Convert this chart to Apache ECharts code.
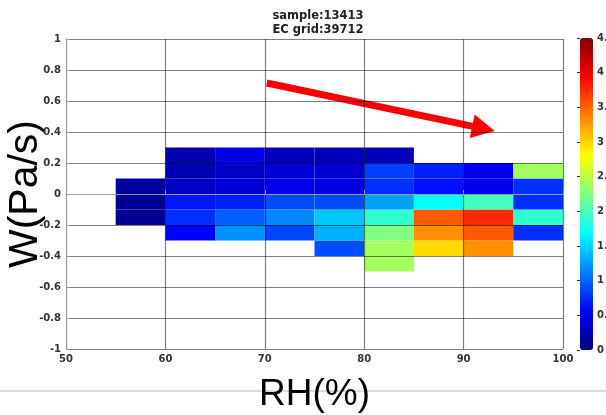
<!DOCTYPE html>
<html>
<head>
<meta charset="utf-8">
<script src="https://cdn.jsdelivr.net/npm/echarts@6/dist/echarts.min.js"></script>
<style>
  html, body { margin: 0; padding: 0; background: #fff; }
  #chart { width: 606px; height: 415px; }
</style>
</head>
<body>
<div id="chart"></div>
<script>
// bin edges (lower-left corner of each cell)
const rhStart = [55, 60, 65, 70, 75, 80, 85, 90, 95];
const wStart = [-0.5, -0.4, -0.3, -0.2, -0.1, 0, 0.1, 0.2];
const rhStep = 5;
const wStep = 0.1;

// cell values per RH column, listed bottom (-0.5) to top (0.2); null = empty
const rh55 = [null, null, null, 0.1, 0.1, 0.15, null, null];
const rh60 = [null, null, 0.56, 0.77, 0.66, 0.3, 0.22, 0.2];
const rh65 = [null, null, 1.2, 0.98, 0.7, 0.38, 0.32, 0.5];
const rh70 = [null, null, 0.88, 1.16, 0.9, 0.45, 0.38, 0.28];
const rh75 = [null, 0.9, 1.34, 1.44, 0.9, 0.43, 0.36, 0.28];
const rh80 = [2.4, 2.4, 2.25, 1.9, 1.27, 0.77, 0.84, 0.28];
const rh85 = [null, 2.97, 3.3, 3.54, 1.69, 0.63, 0.7, null];
const rh90 = [null, 3.3, 3.54, 3.76, 1.97, 0.5, 0.56, null];
const rh95 = [null, null, 0.77, 1.9, 0.77, 0.77, 2.4, null];
const columns = [rh55, rh60, rh65, rh70, rh75, rh80, rh85, rh90, rh95];

const xTicks = [50, 100, 10];     // min, max, interval
const yTicks = [-1, 1, 0.2];
const cbarRange = [0, 4.5, 0.5];

// MATLAB jet
const jet = ['#000080', '#0000ff', '#0080ff', '#00ffff', '#80ff80',
             '#ffff00', '#ff8000', '#ff0000', '#800000'];

const cells = [];
columns.forEach((col, i) => {
  col.forEach((v, j) => {
    if (v !== null) cells.push([rhStart[i], wStart[j], v]);
  });
});

const tickFont = { color: '#333', fontWeight: 'bold', fontSize: 10, fontFamily: 'DejaVu Sans' };
const gridLine = { color: 'rgba(0,0,0,0.5)', width: 1.2 };

const chart = echarts.init(document.getElementById('chart'));

chart.setOption({
  animation: false,
  backgroundColor: '#fff',
  title: {
    text: 'sample:13413\nEC grid:39712',
    left: 313,
    top: 4,
    textAlign: 'center',
    textStyle: { fontSize: 11.5, fontWeight: 'bold', fontFamily: 'DejaVu Sans', color: '#222', lineHeight: 14 }
  },
  grid: [
    { left: 66, top: 39, width: 497, height: 310, containLabel: false, outerBoundsMode: 'none' },
    { left: 580, top: 38, width: 13, height: 312, containLabel: false, outerBoundsMode: 'none' }
  ],
  xAxis: [{
    type: 'value',
    gridIndex: 0,
    min: xTicks[0], max: xTicks[1], interval: xTicks[2],
    z: 10,
    name: 'RH(%)',
    nameLocation: 'middle',
    nameGap: 27,
    nameMoveOverlap: false,
    nameTextStyle: { fontSize: 37, fontFamily: 'Liberation Sans', color: '#000' },
    axisLine: { lineStyle: { color: '#999' } },
    axisTick: { inside: true, length: 4, lineStyle: { color: '#999' } },
    axisLabel: Object.assign({ margin: 5 }, tickFont),
    splitLine: { show: true, lineStyle: gridLine }
  }, {
    type: 'value', gridIndex: 1, min: 0, max: 1, show: false
  }],
  yAxis: [{
    type: 'value',
    gridIndex: 0,
    min: yTicks[0], max: yTicks[1], interval: yTicks[2],
    z: 10,
    name: 'W(Pa/s)',
    nameLocation: 'middle',
    nameGap: 20,
    nameMoveOverlap: false,
    nameTextStyle: { fontSize: 41, fontFamily: 'Liberation Sans', color: '#000' },
    axisLine: { show: true, lineStyle: { color: '#999' } },
    axisTick: { show: true, inside: true, length: 4, lineStyle: { color: '#999' } },
    axisLabel: Object.assign({ margin: 5 }, tickFont),
    splitLine: { show: true, lineStyle: gridLine }
  }, {
    type: 'value',
    gridIndex: 1,
    position: 'right',
    min: cbarRange[0], max: cbarRange[1], interval: cbarRange[2],
    z: 10,
    axisLine: { show: false },
    axisTick: { show: true, inside: true, length: 3, lineStyle: { color: '#333' } },
    axisLabel: Object.assign({ margin: 4 }, tickFont),
    splitLine: { show: false }
  }],
  visualMap: {
    type: 'continuous',
    seriesIndex: 0,
    dimension: 2,
    min: cbarRange[0],
    max: cbarRange[1],
    calculable: false,
    orient: 'vertical',
    left: 580,
    top: 38,
    padding: 0,
    itemWidth: 13,
    itemHeight: 312,
    inRange: { color: jet }
  },
  series: [{
    type: 'custom',
    xAxisIndex: 0,
    yAxisIndex: 0,
    data: cells,
    encode: { x: 0, y: 1 },
    renderItem: function (params, api) {
      const x0 = api.value(0);
      const y0 = api.value(1);
      const p1 = api.coord([x0, y0 + wStep]);
      const p2 = api.coord([x0 + rhStep, y0]);
      return {
        type: 'rect',
        shape: { x: p1[0], y: p1[1], width: p2[0] - p1[0], height: p2[1] - p1[1] },
        style: { fill: api.visual('color') }
      };
    }
  }, {
    type: 'line',
    xAxisIndex: 0,
    yAxisIndex: 0,
    data: [],
    markLine: {
      silent: true,
      symbol: ['none', 'triangle'],
      symbolSize: [24, 23],
      label: { show: false },
      lineStyle: { color: '#ff0000', width: 7, type: 'solid', opacity: 1 },
      data: [[{ coord: [70.2, 0.716] }, { coord: [92.0, 0.422] }]]
    }
  }],
  graphic: [{
    type: 'line',
    z: -1,
    shape: { x1: 0, y1: 391, x2: 606, y2: 391 },
    style: { stroke: '#cfcfcf', lineWidth: 1.5 }
  }]
});
</script>
</body>
</html>
